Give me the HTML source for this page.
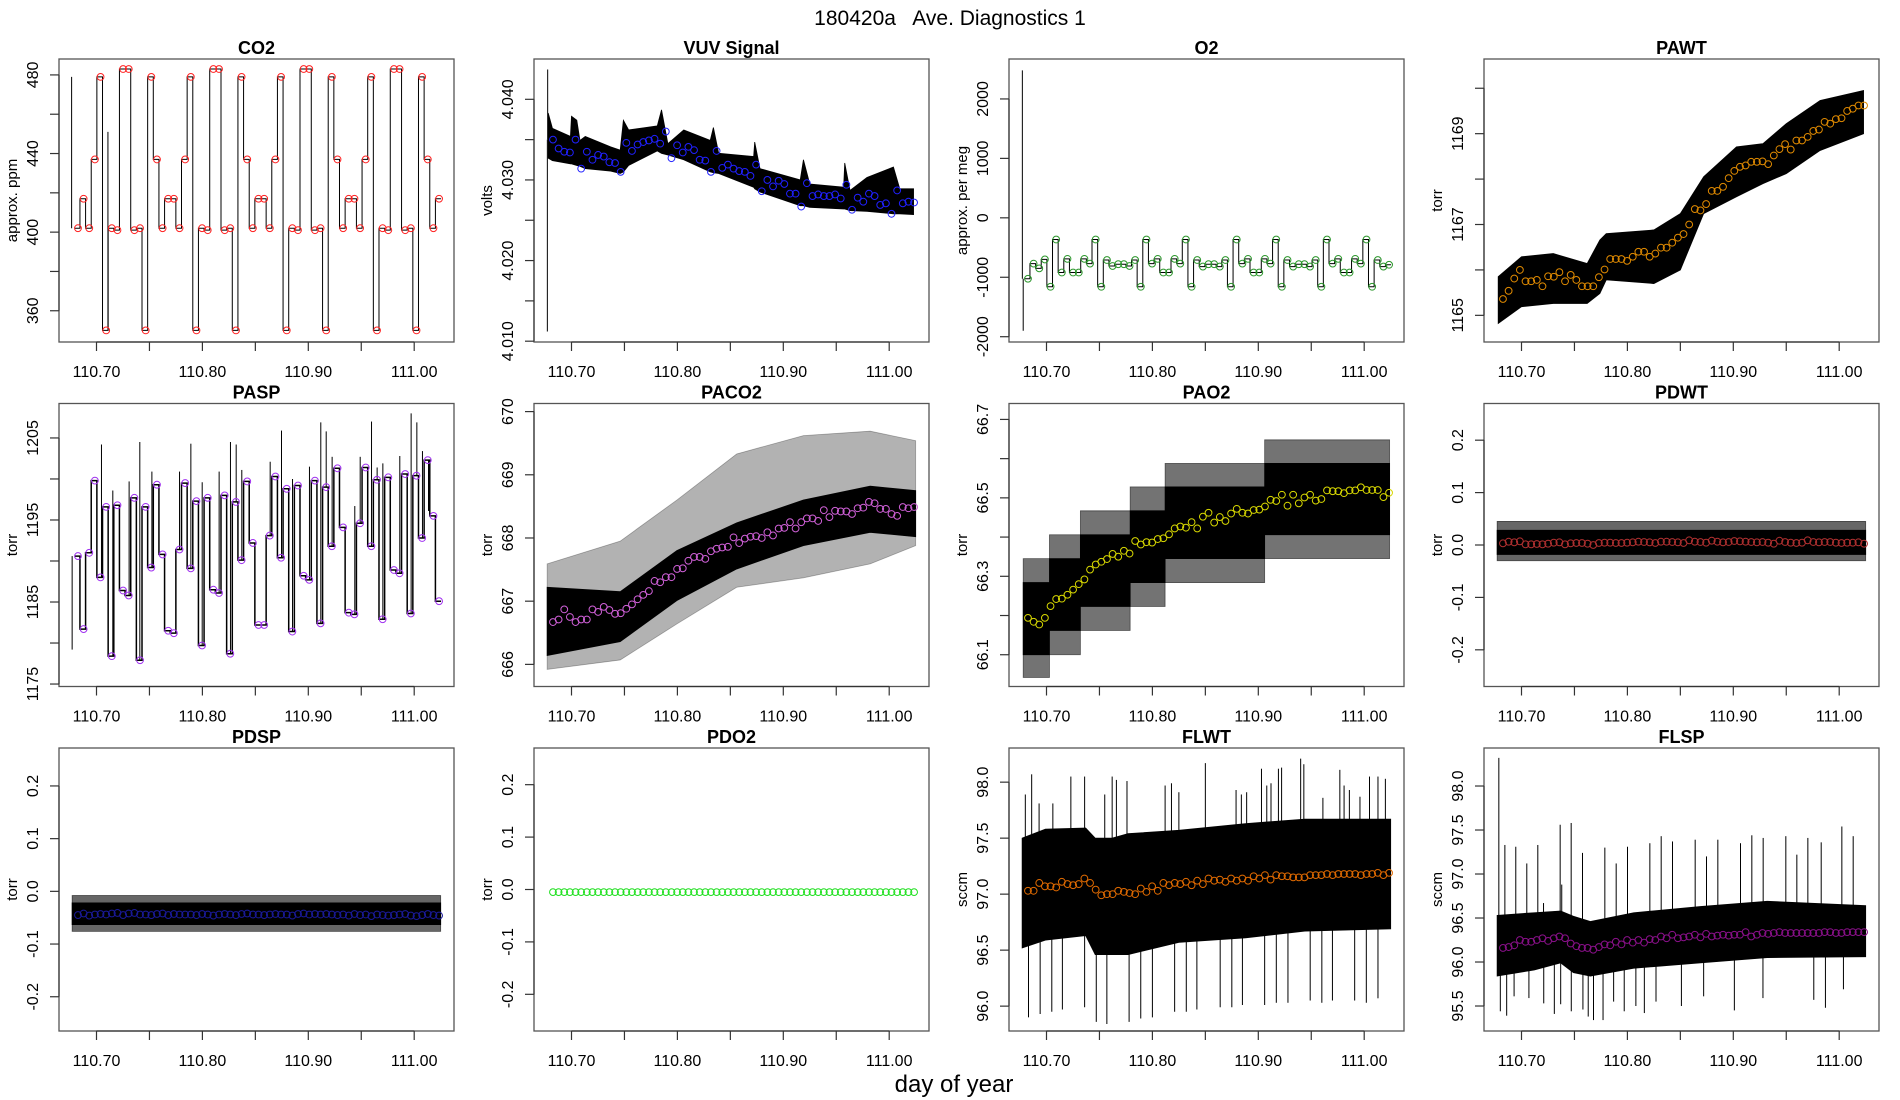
<!DOCTYPE html>
<html><head><meta charset="utf-8"><title>180420a Ave. Diagnostics 1</title>
<style>
html,body{margin:0;padding:0;background:#fff;}
svg{display:block;font-family:"Liberation Sans",Arial,sans-serif;}
</style></head>
<body>
<svg id="chart" width="1900" height="1100" viewBox="0 0 1900 1100" xmlns="http://www.w3.org/2000/svg">
<rect x="0" y="0" width="1900" height="1100" fill="#fff"/>
<text x="950" y="25" text-anchor="middle" font-size="21" fill="#000" style="white-space:pre">180420a   Ave. Diagnostics 1</text>
<text x="954" y="1092" text-anchor="middle" font-size="24" fill="#000">day of year</text>
</svg>
<script>
// ---- time grid of the averaged points ----
const T0 = 110.6825;
const DT = 0.005328;
const NPTS = 65;

// ---- x axis ----
const xTicks = [110.70, 110.75, 110.80, 110.85, 110.90, 110.95, 111.00];
const xTickLabels = ["110.70", "", "110.80", "", "110.90", "", "111.00"];

// ---- CO2 ----
const co2Avg = [402,417,402,437,479, 350,402,401,483,483,401,402,350,479,437,402,417,417,402,437,479, 350,402,401,483,483,401,402,350,479,437,402,417,417,402,437,479, 350,402,401,483,483,401,402,350,479,437,402,417,417,402,437,479, 350,402,401,483,483,401,402,350,479,437,402,417];
const co2SpikeDay = [110.6765, 110.7108];
const co2SpikeVal = [479, 451];
const co2YTicks = [360,380,400,420,440,460,480];
const co2YLabels = ["360","","400","","440","","480"];

// ---- VUV ----
const vuvAvg = [4.0350,4.0339,4.0335,4.0334,4.0350, 4.0314,4.0335,4.0325,4.0331,4.0329, 4.0322,4.0321,4.0310,4.0346,4.0336, 4.0344,4.0347,4.0349,4.0351,4.0345, 4.0360,4.0327,4.0343,4.0334,4.0341, 4.0337,4.0325,4.0324,4.0310,4.0336, 4.0315,4.0319,4.0314,4.0311,4.0310, 4.0305,4.0319,4.0286,4.0300,4.0292, 4.0299,4.0295,4.0283,4.0283,4.0267, 4.0296,4.0280,4.0282,4.0280,4.0280, 4.0282,4.0277,4.0294,4.0263,4.0278, 4.0273,4.0283,4.0280,4.0269,4.0271, 4.0258,4.0287,4.0271,4.0273,4.0272];
const vuvBandDay = [110.678,110.682,110.699,110.700,110.705,110.708,110.713,110.737,110.746,110.749,110.754,110.781,110.785,110.791,110.806,110.831,110.834,110.839,110.872,110.873,110.878,110.916,110.919,110.925,110.957,110.958,110.963,110.979,111.004,111.010,111.023];
const vuvBandHi = [4.0383,4.0364,4.0354,4.0379,4.0374,4.0349,4.0354,4.0341,4.0337,4.0374,4.0362,4.0367,4.0387,4.0345,4.0362,4.0349,4.0365,4.0333,4.0329,4.0347,4.0314,4.0300,4.0325,4.0295,4.0291,4.0321,4.0287,4.0303,4.0316,4.0289,4.0289];
const vuvBandLo = [4.0327,4.0324,4.0320,4.0320,4.0318,4.0317,4.0314,4.0311,4.0308,4.0310,4.0318,4.0336,4.0333,4.0331,4.0325,4.0310,4.0309,4.0308,4.0291,4.0289,4.0285,4.0268,4.0268,4.0266,4.0264,4.0264,4.0262,4.0261,4.0258,4.0258,4.0257];
const vuvSpikeDay = [110.6775, 110.6772];
const vuvSpikeVal = [4.0437, 4.0112];
const vuvYTicks = [4.010,4.015,4.020,4.025,4.030,4.035,4.040];
const vuvYLabels = ["4.010","","4.020","","4.030","","4.040"];

// ---- O2 ----
const o2Avg = [-1025,-770,-850,-700,-1160, -365,-920,-690,-920,-920,-690,-770,-365,-1160,-710,-810,-780,-780,-810,-710,-1160, -365,-770,-690,-920,-920,-690,-770,-365,-1160,-710,-820,-780,-780,-820,-710,-1160, -365,-770,-690,-920,-920,-690,-770,-365,-1160,-710,-820,-780,-780,-820,-710,-1160, -365,-770,-690,-920,-920,-690,-770,-365,-1160,-710,-820,-790];
const o2SpikeDay = [110.6772, 110.6780];
const o2SpikeVal = [2480, -1900];
const o2YTicks = [-2000,-1000,0,1000,2000];
const o2YLabels = ["-2000","-1000","0","1000","2000"];

// ---- PAWT ----
const pawtAvg = [1165.36,1165.54,1165.81,1166.00,1165.75, 1165.75,1165.78,1165.64,1165.86,1165.85, 1165.95,1165.75,1165.89,1165.78,1165.64, 1165.64,1165.64,1165.84,1166.01,1166.24, 1166.24,1166.24,1166.20,1166.29,1166.40, 1166.40,1166.29,1166.36,1166.49,1166.49, 1166.60,1166.71,1166.79,1167.00,1167.34, 1167.31,1167.45,1167.74,1167.74,1167.83, 1168.02,1168.18,1168.27,1168.30,1168.38, 1168.38,1168.39,1168.33,1168.52,1168.66, 1168.77,1168.65,1168.85,1168.85,1168.93, 1169.06,1169.09,1169.26,1169.22,1169.32, 1169.34,1169.50,1169.55,1169.62,1169.62];
const pawtBandDay = [110.678,110.700,110.730,110.762,110.774,110.780,110.825,110.850,110.872,110.903,110.928,110.950,110.982,111.023];
const pawtBandHi = [1165.85,1166.29,1166.36,1166.14,1166.66,1166.80,1166.88,1167.24,1168.05,1168.71,1168.78,1169.22,1169.73,1169.95];
const pawtBandLo = [1164.82,1165.19,1165.26,1165.26,1165.48,1165.78,1165.70,1166.00,1167.24,1167.61,1167.90,1168.12,1168.63,1169.00];
const pawtYTicks = [1165,1166,1167,1168,1169,1170];
const pawtYLabels = ["1165","","1167","","1169",""];

// ---- PASP ----
const paspAvg = [1190.6,1181.7,1191.0,1199.8,1188.0, 1196.6,1178.4,1196.8,1186.4,1185.8, 1197.7,1177.9,1196.6,1189.2,1199.3, 1190.8,1181.5,1181.2,1191.4,1199.5, 1189.1,1197.3,1179.7,1197.7,1186.5, 1186.1,1198.0,1178.7,1197.2,1190.1, 1199.7,1192.2,1182.2,1182.2,1193.1, 1200.3,1190.4,1198.8,1181.4,1199.2, 1188.2,1187.7,1199.8,1182.4,1199.0, 1191.8,1201.3,1194.1,1183.7,1183.5, 1194.6,1201.4,1191.8,1199.9,1182.9, 1200.2,1188.9,1188.5,1200.6,1183.6, 1200.4,1192.8,1202.3,1195.5,1185.1];
const paspSpikeDay = [110.6770,110.7047,110.7154,110.7308,110.7409,110.7523,110.7784,110.7891,110.7998,110.8158,110.8265,110.8319,110.8372,110.8640,110.8747,110.8851,110.9011,110.9118,110.9169,110.9225,110.9439,110.9490,110.9597,110.9650,110.9704,110.9864,110.9971,111.0025,111.0078,111.0135];
const paspSpikeVal = [1179.2,1204.2,1198.6,1199.7,1204.5,1200.9,1200.9,1204.3,1199.6,1200.9,1204.5,1204.2,1201.1,1202.1,1205.9,1200.0,1201.5,1206.9,1205.8,1202.7,1196.7,1202.7,1207.0,1201.4,1201.9,1202.8,1208.0,1206.9,1203.4,1196.1];
const paspYTicks = [1175,1180,1185,1190,1195,1200,1205];
const paspYLabels = ["1175","","1185","","1195","","1205"];

// ---- PACO2 ----
const paco2Avg = [666.67,666.71,666.87,666.75,666.67, 666.71,666.71,666.87,666.83,666.91, 666.86,666.80,666.81,666.88,666.95, 667.03,667.10,667.16,667.32,667.30, 667.38,667.38,667.51,667.52,667.64, 667.70,667.70,667.67,667.79,667.83, 667.85,667.86,668.01,667.92,667.99, 668.02,668.03,668.00,668.09,668.04, 668.15,668.16,668.25,668.15,668.25, 668.31,668.31,668.27,668.44,668.33, 668.43,668.42,668.42,668.38,668.47, 668.48,668.57,668.55,668.46,668.46, 668.38,668.35,668.49,668.47,668.49];
const paco2BandDay = [110.677,110.746,110.7995,110.856,110.919,110.982,111.025];
const paco2BandHi = [667.22,667.15,667.80,668.24,668.60,668.82,668.75];
const paco2BandLo = [666.14,666.36,667.01,667.51,667.88,668.09,668.02];
const paco2OuterHi = [667.59,667.95,668.60,669.33,669.62,669.69,669.54];
const paco2OuterLo = [665.92,666.07,666.64,667.22,667.37,667.59,667.88];
const paco2YTicks = [666,667,668,669,670];
const paco2YLabels = ["666","667","668","669","670"];

// ---- PAO2 ----
const pao2Avg = [66.194,66.184,66.177,66.194,66.224, 66.242,66.243,66.253,66.266,66.280, 66.292,66.317,66.330,66.337,66.344, 66.357,66.350,66.365,66.358,66.390, 66.381,66.387,66.386,66.395,66.397, 66.407,66.422,66.427,66.424,66.438, 66.422,66.452,66.462,66.437,66.451, 66.441,66.460,66.472,66.462,66.460, 66.469,66.470,66.478,66.495,66.492, 66.508,66.480,66.508,66.486,66.501, 66.508,66.493,66.497,66.519,66.517, 66.517,66.512,66.519,66.519,66.527, 66.520,66.520,66.520,66.502,66.513];
const pao2StepDay = [110.678,110.7028,110.732,110.779,110.812,110.906,111.024];
const pao2CoreHi = [66.284,66.345,66.406,66.467,66.528,66.588];
const pao2CoreLo = [66.100,66.162,66.223,66.284,66.345,66.406];
const pao2OuterHi = [66.345,66.406,66.467,66.528,66.588,66.648];
const pao2OuterLo = [66.042,66.100,66.162,66.223,66.284,66.345];
const pao2YTicks = [66.1,66.2,66.3,66.4,66.5,66.6,66.7];
const pao2YLabels = ["66.1","","66.3","","66.5","","66.7"];

// ---- PDWT ----
const pdwtAvg = [0.0032,0.0063,0.0051,0.0070,0.0013,0.0013,0.0019,0.0013,0.0025,0.0044, 0.0051,0.0013,0.0032,0.0038,0.0038,0.0025,0.0000,0.0038,0.0044,0.0044, 0.0038,0.0038,0.0044,0.0051,0.0063,0.0057,0.0051,0.0038,0.0063,0.0063, 0.0057,0.0051,0.0038,0.0089,0.0063,0.0057,0.0044,0.0082,0.0063,0.0051, 0.0057,0.0076,0.0070,0.0063,0.0057,0.0051,0.0057,0.0044,0.0025,0.0082, 0.0057,0.0044,0.0038,0.0044,0.0089,0.0057,0.0051,0.0057,0.0057,0.0044, 0.0038,0.0044,0.0044,0.0051,0.0025];
const pdwtBandDay = [110.677,111.025];
const pdwtBandHi = [0.028,0.028];
const pdwtBandLo = [-0.018,-0.018];
const pdwtOuterHi = [0.045,0.045];
const pdwtOuterLo = [-0.030,-0.030];

// ---- PDSP ----
const pdspAvg = [-0.045,-0.042,-0.046,-0.044,-0.043,-0.044,-0.042,-0.041,-0.045,-0.042, -0.041,-0.044,-0.044,-0.045,-0.043,-0.042,-0.045,-0.043,-0.044,-0.044, -0.044,-0.045,-0.043,-0.044,-0.046,-0.044,-0.043,-0.044,-0.045,-0.043, -0.042,-0.044,-0.044,-0.045,-0.044,-0.043,-0.044,-0.044,-0.046,-0.043, -0.042,-0.044,-0.043,-0.044,-0.043,-0.044,-0.045,-0.044,-0.046,-0.043, -0.045,-0.044,-0.047,-0.044,-0.045,-0.046,-0.045,-0.044,-0.043,-0.046, -0.047,-0.045,-0.043,-0.045,-0.046];
const pdspBandDay = [110.677,111.025];
const pdspBandHi = [-0.022,-0.022];
const pdspBandLo = [-0.063,-0.063];
const pdspOuterHi = [-0.008,-0.008];
const pdspOuterLo = [-0.076,-0.076];

// ---- PDO2 ----
const pdo2Avg = [-0.005,-0.005,-0.005,-0.005,-0.005,-0.005,-0.005,-0.005,-0.005,-0.005, -0.005,-0.005,-0.005,-0.005,-0.005,-0.005,-0.005,-0.005,-0.005,-0.005, -0.005,-0.005,-0.005,-0.005,-0.005,-0.005,-0.005,-0.005,-0.005,-0.005, -0.005,-0.005,-0.005,-0.005,-0.005,-0.005,-0.005,-0.005,-0.005,-0.005, -0.005,-0.005,-0.005,-0.005,-0.005,-0.005,-0.005,-0.005,-0.005,-0.005, -0.005,-0.005,-0.005,-0.005,-0.005,-0.005,-0.005,-0.005,-0.005,-0.005, -0.005,-0.005,-0.005,-0.005,-0.005];
const pdYTicks = [-0.2,-0.1,0.0,0.1,0.2];
const pdYLabels = ["-0.2","-0.1","0.0","0.1","0.2"];

// ---- FLWT ----
const flwtAvg = [97.03,97.03,97.10,97.07,97.07, 97.06,97.11,97.09,97.08,97.09, 97.14,97.10,97.04,96.99,97.00, 97.00,97.03,97.02,97.01,97.00, 97.05,97.02,97.07,97.03,97.10, 97.08,97.10,97.09,97.11,97.08, 97.12,97.09,97.14,97.12,97.13, 97.11,97.14,97.12,97.14,97.12, 97.16,97.14,97.17,97.13,97.17, 97.16,97.16,97.15,97.15,97.15, 97.17,97.17,97.17,97.18,97.17, 97.18,97.18,97.18,97.18,97.17, 97.18,97.18,97.19,97.17,97.19];
const flwtBandDay = [110.677,110.699,110.737,110.746,110.762,110.777,110.825,110.888,110.944,111.025];
const flwtBandHi = [97.50,97.58,97.59,97.50,97.50,97.54,97.57,97.63,97.67,97.67];
const flwtBandLo = [96.52,96.59,96.63,96.46,96.46,96.46,96.57,96.61,96.67,96.69];
const flwtSpikeDay = [110.680,110.686,110.693,110.706,110.723,110.736,110.755,110.762,110.766,110.776,110.812,110.818,110.825,110.850,110.879,110.884,110.889,110.903,110.908,110.912,110.919,110.922,110.940,110.943,110.961,110.977,110.981,110.986,110.996,111.005,111.013,111.020, 110.683,110.694,110.705,110.715,110.736,110.747,110.757,110.778,110.789,110.800,110.821,110.832,110.842,110.864,110.875,110.885,110.906,110.917,110.928,110.949,110.960,110.970,110.991,111.002,111.013];
const flwtSpikeVal = [97.89,98.07,97.81,97.81,98.05,98.05,97.89,98.05,98.02,98.01,97.97,97.99,97.91,98.17,97.93,97.89,97.91,98.12,97.97,97.99,98.12,98.13,98.21,98.16,97.86,98.11,97.97,97.93,97.87,98.05,98.05,98.03, 95.90,95.93,95.95,95.97,95.99,95.86,95.84,95.86,95.89,95.90,95.95,95.95,95.97,95.99,95.99,96.01,96.01,96.03,96.03,96.05,96.03,96.05,96.05,96.03,96.07];
const flwtYTicks = [96.0,96.5,97.0,97.5,98.0];
const flwtYLabels = ["96.0","96.5","97.0","97.5","98.0"];

// ---- FLSP ----
const flspAvg = [96.16,96.17,96.19,96.25,96.23, 96.23,96.25,96.27,96.24,96.27, 96.29,96.27,96.21,96.18,96.16, 96.16,96.14,96.17,96.20,96.19, 96.23,96.20,96.25,96.22,96.25, 96.22,96.26,96.25,96.29,96.27, 96.31,96.27,96.28,96.29,96.31, 96.28,96.32,96.29,96.30,96.31, 96.30,96.31,96.31,96.34,96.29, 96.31,96.33,96.32,96.33,96.34, 96.33,96.33,96.33,96.33,96.33, 96.33,96.33,96.34,96.34,96.33, 96.33,96.34,96.34,96.34,96.34];
const flspBandDay = [110.677,110.712,110.737,110.749,110.765,110.806,110.869,110.932,111.025];
const flspBandHi = [96.53,96.56,96.58,96.52,96.46,96.56,96.63,96.69,96.64];
const flspBandLo = [95.84,95.91,95.99,95.88,95.84,95.93,95.99,96.05,96.06];
const flspSpikeDay = [110.6786,110.6843,110.6946,110.7050,110.7154,110.7208,110.7365,110.7380,110.7469,110.7576,110.7787,110.7894,110.8001,110.8212,110.8319,110.8426,110.8640,110.8747,110.8854,110.9068,110.9175,110.9282,110.9496,110.9600,110.9704,110.9830,111.0025,111.0132, 110.680,110.686,110.693,110.707,110.721,110.731,110.737,110.747,110.758,110.763,110.768,110.777,110.787,110.797,110.808,110.816,110.827,110.851,110.872,110.901,110.928,110.976,110.987,111.004];
const flspSpikeVal = [98.32,97.33,97.31,97.12,97.33,96.67,97.56,96.88,97.58,97.24,97.30,97.12,97.31,97.35,97.43,97.37,97.39,97.20,97.39,97.35,97.44,97.41,97.43,97.22,97.41,97.36,97.54,97.43, 95.44,95.39,95.61,95.59,95.53,95.41,95.52,95.44,95.46,95.38,95.34,95.34,95.55,95.44,95.50,95.42,95.55,95.50,95.61,95.45,95.59,95.57,95.48,95.69];
const flspYTicks = [95.5,96.0,96.5,97.0,97.5,98.0];
const flspYLabels = ["95.5","96.0","96.5","97.0","97.5","98.0"];

// ================= rendering =================
const svg = document.getElementById('chart');
const NS = 'http://www.w3.org/2000/svg';
const COLS = [59, 534, 1009, 1484];
const ROWS = [59, 403.5, 748];
const PW = 395, PH = 283;

function mk(tag, attrs, parent) {
  const e = document.createElementNS(NS, tag);
  for (const k in attrs) e.setAttribute(k, attrs[k]);
  (parent || svg).appendChild(e);
  return e;
}
function sampleTime(i) { return T0 + i * DT; }
function nearestIndex(d) {
  let i = Math.round((d - T0) / DT);
  return Math.max(0, Math.min(NPTS - 1, i));
}

function drawPanel(p) {
  const left = COLS[p.col], top = ROWS[p.row];
  const X = d => left + 37.5 + (d - 110.70) * 1059;
  const Y = v => top + (p.ymax - v) / (p.ymax - p.ymin) * PH;
  const g = mk('g', {});
  
  

  const clipId = 'clip-' + p.key;
  const cp = mk('clipPath', { id: clipId }, g);
  mk('rect', { x: left, y: top, width: PW, height: PH }, cp);
  const plot = mk('g', { 'clip-path': 'url(#' + clipId + ')' }, g);
  
  

  (p.bands || []).forEach(b => {
    let d = '';
    if (b.step) {
      for (let i = 0; i < b.hi.length; i++) {
        d += (i === 0 ? 'M' : 'L') + X(b.day[i]) + ',' + Y(b.hi[i]) + 'L' + X(b.day[i + 1]) + ',' + Y(b.hi[i]);
      }
      for (let i = b.lo.length - 1; i >= 0; i--) {
        d += 'L' + X(b.day[i + 1]) + ',' + Y(b.lo[i]) + 'L' + X(b.day[i]) + ',' + Y(b.lo[i]);
      }
    } else {
      for (let i = 0; i < b.day.length; i++) d += (i === 0 ? 'M' : 'L') + X(b.day[i]) + ',' + Y(b.hi[i]);
      for (let i = b.day.length - 1; i >= 0; i--) d += 'L' + X(b.day[i]) + ',' + Y(b.lo[i]);
    }
    d += 'Z';
    const band = mk('path', { d: d, fill: '#000', 'fill-opacity': b.op, stroke: '#000', 'stroke-opacity': b.op, 'stroke-width': 0.8 }, plot);
    
    
  });

  if (p.step) {
    let d = 'M' + X(sampleTime(0) - DT * 0.6) + ',' + Y(p.avg[0]);
    for (let i = 0; i < p.avg.length; i++) {
      const xe = X(sampleTime(i) + DT * 0.35);
      d += 'L' + xe + ',' + Y(p.avg[i]);
      if (i < p.avg.length - 1) d += 'L' + xe + ',' + Y(p.avg[i + 1]);
    }
    const line = mk('path', { d: d, fill: 'none', stroke: '#000', 'stroke-width': p.stepWidth || 1 }, plot);
    
    
  }

  if (p.spikeDay) {
    p.spikeDay.forEach((sd, i) => {
      const base = p.avg[nearestIndex(sd)];
      const s = mk('line', { x1: X(sd), x2: X(sd), y1: Y(base), y2: Y(p.spikeVal[i]), stroke: '#000', 'stroke-width': 1 }, plot);
      
      
    });
  }

  p.avg.forEach((v, i) => {
    const c = mk('circle', { cx: X(sampleTime(i)), cy: Y(v), r: 3.4, fill: 'none', stroke: p.color, 'stroke-width': 1 }, g);
    
    
  });

  const box = mk('rect', { x: left, y: top, width: PW, height: PH, fill: 'none', stroke: '#555', 'stroke-width': 1.3 }, g);
  
  

  const xa = mk('g', {}, g);
  
  
  mk('line', { x1: X(xTicks[0]), x2: X(xTicks[xTicks.length - 1]), y1: top + PH, y2: top + PH, stroke: '#333', 'stroke-width': 1.2 }, xa);
  xTicks.forEach((t, i) => {
    mk('line', { x1: X(t), x2: X(t), y1: top + PH, y2: top + PH + 9, stroke: '#333', 'stroke-width': 1.2 }, xa);
    if (xTickLabels[i]) {
      const tl = mk('text', { x: X(t), y: top + PH + 35, 'text-anchor': 'middle', 'font-size': 16, fill: '#000' }, xa);
      tl.textContent = xTickLabels[i];
      
      
    }
  });

  const ya = mk('g', {}, g);
  
  
  mk('line', { x1: left, x2: left, y1: Y(p.yTicks[0]), y2: Y(p.yTicks[p.yTicks.length - 1]), stroke: '#333', 'stroke-width': 1.2 }, ya);
  p.yTicks.forEach((t, i) => {
    mk('line', { x1: left - 9, x2: left, y1: Y(t), y2: Y(t), stroke: '#333', 'stroke-width': 1.2 }, ya);
    if (p.yLabels[i]) {
      const yl = mk('text', { x: left - 21, y: Y(t), 'text-anchor': 'middle', 'font-size': 16, fill: '#000', transform: 'rotate(-90 ' + (left - 21) + ' ' + Y(t) + ')' }, ya);
      yl.textContent = p.yLabels[i];
      
      
    }
  });
  const yt = mk('text', { x: left - 42, y: top + PH / 2, 'text-anchor': 'middle', 'font-size': 15, fill: '#000', transform: 'rotate(-90 ' + (left - 42) + ' ' + (top + PH / 2) + ')' }, ya);
  yt.textContent = p.ytitle;
  
  

  const ti = mk('text', { x: left + PW / 2, y: top - 5, 'text-anchor': 'middle', 'font-size': 18, 'font-weight': 'bold', fill: '#000' }, g);
  ti.textContent = p.title;
  
  
}

const panels = [
  { key: 'co2', title: 'CO2', ytitle: 'approx. ppm', col: 0, row: 0, ymin: 344.1, ymax: 488.1, yTicks: co2YTicks, yLabels: co2YLabels, avg: co2Avg, color: '#ff2020', step: true, stepWidth: 1, spikeDay: co2SpikeDay, spikeVal: co2SpikeVal },
  { key: 'vuv', title: 'VUV Signal', ytitle: 'volts', col: 1, row: 0, ymin: 4.0099, ymax: 4.0450, yTicks: vuvYTicks, yLabels: vuvYLabels, avg: vuvAvg, color: '#2020ff',
    bands: [{ day: vuvBandDay, hi: vuvBandHi, lo: vuvBandLo, op: 1 }], spikeDay: vuvSpikeDay, spikeVal: vuvSpikeVal },
  { key: 'o2', title: 'O2', ytitle: 'approx. per meg', col: 2, row: 0, ymin: -2089, ymax: 2672, yTicks: o2YTicks, yLabels: o2YLabels, avg: o2Avg, color: '#2a962a', step: true, stepWidth: 1, spikeDay: o2SpikeDay, spikeVal: o2SpikeVal },
  { key: 'pawt', title: 'PAWT', ytitle: 'torr', col: 3, row: 0, ymin: 1164.413, ymax: 1170.644, yTicks: pawtYTicks, yLabels: pawtYLabels, avg: pawtAvg, color: '#e08a00',
    bands: [{ day: pawtBandDay, hi: pawtBandHi, lo: pawtBandLo, op: 1 }] },
  { key: 'pasp', title: 'PASP', ytitle: 'torr', col: 0, row: 1, ymin: 1174.7, ymax: 1209.2, yTicks: paspYTicks, yLabels: paspYLabels, avg: paspAvg, color: '#a030f0', step: true, stepWidth: 1.5, spikeDay: paspSpikeDay, spikeVal: paspSpikeVal },
  { key: 'paco2', title: 'PACO2', ytitle: 'torr', col: 1, row: 1, ymin: 665.65, ymax: 670.128, yTicks: paco2YTicks, yLabels: paco2YLabels, avg: paco2Avg, color: '#d060d8',
    bands: [{ day: paco2BandDay, hi: paco2OuterHi, lo: paco2OuterLo, op: 0.3 }, { day: paco2BandDay, hi: paco2BandHi, lo: paco2BandLo, op: 1 }] },
  { key: 'pao2', title: 'PAO2', ytitle: 'torr', col: 2, row: 1, ymin: 66.019, ymax: 66.7406, yTicks: pao2YTicks, yLabels: pao2YLabels, avg: pao2Avg, color: '#d8d800',
    bands: [{ day: pao2StepDay, hi: pao2OuterHi, lo: pao2OuterLo, op: 0.55, step: true }, { day: pao2StepDay, hi: pao2CoreHi, lo: pao2CoreLo, op: 1, step: true }] },
  { key: 'pdwt', title: 'PDWT', ytitle: 'torr', col: 3, row: 1, ymin: -0.27, ymax: 0.27, yTicks: pdYTicks, yLabels: pdYLabels, avg: pdwtAvg, color: '#b03030',
    bands: [{ day: pdwtBandDay, hi: pdwtOuterHi, lo: pdwtOuterLo, op: 0.6 }, { day: pdwtBandDay, hi: pdwtBandHi, lo: pdwtBandLo, op: 1 }] },
  { key: 'pdsp', title: 'PDSP', ytitle: 'torr', col: 0, row: 2, ymin: -0.265, ymax: 0.272, yTicks: pdYTicks, yLabels: pdYLabels, avg: pdspAvg, color: '#1a1a9a',
    bands: [{ day: pdspBandDay, hi: pdspOuterHi, lo: pdspOuterLo, op: 0.6 }, { day: pdspBandDay, hi: pdspBandHi, lo: pdspBandLo, op: 1 }] },
  { key: 'pdo2', title: 'PDO2', ytitle: 'torr', col: 1, row: 2, ymin: -0.27, ymax: 0.27, yTicks: pdYTicks, yLabels: pdYLabels, avg: pdo2Avg, color: '#20e020' },
  { key: 'flwt', title: 'FLWT', ytitle: 'sccm', col: 2, row: 2, ymin: 95.778, ymax: 98.305, yTicks: flwtYTicks, yLabels: flwtYLabels, avg: flwtAvg, color: '#e06a00',
    bands: [{ day: flwtBandDay, hi: flwtBandHi, lo: flwtBandLo, op: 1 }], spikeDay: flwtSpikeDay, spikeVal: flwtSpikeVal },
  { key: 'flsp', title: 'FLSP', ytitle: 'sccm', col: 3, row: 2, ymin: 95.216, ymax: 98.432, yTicks: flspYTicks, yLabels: flspYLabels, avg: flspAvg, color: '#8a108a',
    bands: [{ day: flspBandDay, hi: flspBandHi, lo: flspBandLo, op: 1 }], spikeDay: flspSpikeDay, spikeVal: flspSpikeVal }
];
panels.forEach(drawPanel);
</script>
</body></html>
